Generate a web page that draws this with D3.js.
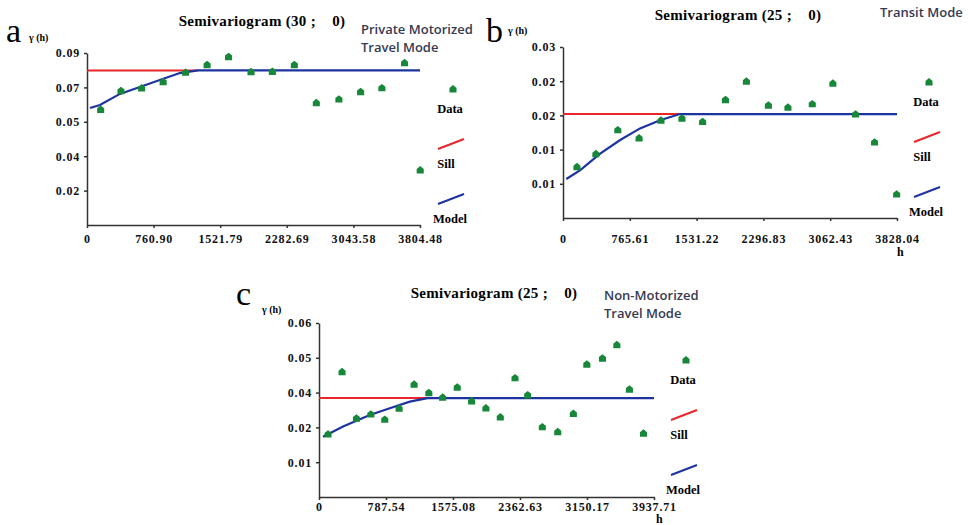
<!DOCTYPE html>
<html lang="en">
<head>
<meta charset="UTF-8">
<title>Semivariograms by travel mode</title>
<script src="https://d3js.org/d3.v7.min.js"></script>
<style>
    body { margin: 0; background: #fff; }
    svg { display: block; }
    .axis text { font-family: "Liberation Serif", serif; font-weight: bold; font-size: 12px; letter-spacing: 0.8px; fill: #111; }
    .axis path, .axis line { stroke: #333; stroke-width: 1.5; }
    .title { font-family: "Liberation Serif", serif; font-weight: bold; font-size: 15px; letter-spacing: 0.3px; white-space: pre; }
    .note { font-family: "Open Sans", sans-serif; font-size: 13px; font-weight: 600; fill: #363a52; }
    .legend { font-family: "Liberation Serif", serif; font-weight: bold; font-size: 12.5px; }
    .letter { font-family: "Liberation Serif", serif; font-size: 34px; }
    .ylab { font-family: "Liberation Serif", serif; font-weight: bold; font-size: 10px; }
</style>
</head>
<body>
<svg width="971" height="525"></svg>
<script>
// ---- data ----
// (a) private motorized
const aLag = [156, 388, 624, 870, 1126, 1372, 1617, 1874, 2118, 2369, 2620, 2878, 3126, 3369, 3628, 3807];
const aGamma = [0.0605, 0.0703, 0.0717, 0.0750, 0.0799, 0.0839, 0.0881, 0.0802, 0.0804, 0.0839, 0.0640, 0.0659, 0.0698, 0.0718, 0.0849, 0.0288];
const aModelLag = [34, 148, 376, 604, 832, 1060, 1266, 3804.48];
const aModelGamma = [0.0612, 0.0628, 0.0686, 0.0722, 0.0759, 0.0795, 0.0809, 0.0809];
const aSill = 0.0809, aSillEnd = 1266;
const aXTicks = [0, 760.90, 1521.79, 2282.69, 3043.58, 3804.48];
const aYTicks = [0.018, 0.036, 0.054, 0.072, 0.09];
const aYTickLabels = ["0.02", "0.04", "0.05", "0.07", "0.09"];

// (b) transit
const bLag = [160, 377, 628, 872, 1123, 1363, 1600, 1862, 2102, 2354, 2578, 2857, 3093, 3353, 3571, 3824];
const bGamma = [0.0075, 0.0094, 0.0129, 0.0117, 0.0143, 0.0146, 0.0141, 0.0173, 0.0200, 0.0165, 0.0162, 0.0167, 0.0197, 0.0152, 0.0111, 0.0035];
const bModelLag = [38, 198, 426, 655, 883, 1112, 1340, 3828.04];
const bModelGamma = [0.0057, 0.0070, 0.0094, 0.0114, 0.0131, 0.0143, 0.0152, 0.0152];
const bSill = 0.0152, bSillEnd = 1340;
const bXTicks = [0, 765.61, 1531.22, 2296.83, 3062.43, 3828.04];
const bYTicks = [0.005, 0.01, 0.015, 0.02, 0.025];
const bYTickLabels = ["0.01", "0.01", "0.02", "0.02", "0.03"];

// (c) non-motorized
const cLag = [106, 271, 440, 609, 773, 942, 1118, 1291, 1453, 1625, 1794, 1962, 2131, 2304, 2453, 2625, 2806, 2990, 3148, 3332, 3501, 3649, 3814];
const cGamma = [0.0217, 0.0432, 0.0272, 0.0286, 0.0268, 0.0306, 0.0389, 0.0360, 0.0344, 0.0379, 0.0331, 0.0307, 0.0276, 0.0411, 0.0352, 0.0242, 0.0225, 0.0288, 0.0458, 0.0479, 0.0525, 0.0372, 0.0220];
const cModelLag = [47, 283, 597, 832, 1068, 1276, 3937.71];
const cModelGamma = [0.0208, 0.0243, 0.0283, 0.0306, 0.0329, 0.0341, 0.0341];
const cSill = 0.0341, cSillEnd = 1276;
const cXTicks = [0, 787.54, 1575.08, 2362.63, 3150.17, 3937.71];
const cYTicks = [0.012, 0.024, 0.036, 0.048, 0.06];
const cYTickLabels = ["0.01", "0.02", "0.04", "0.05", "0.06"];

const legendLabels = ["Data", "Sill", "Model"];

const svg = d3.select("svg");
svg.append("rect").attr("width", 971).attr("height", 525).attr("fill", "#fff");

const GREEN = "#17873a", RED = "#e8262b", BLUE = "#1d33a0";

// small house-shaped marker like the original
const house = {
    draw(ctx, size) {
        const r = Math.sqrt(size) / 2;
        ctx.moveTo(-r, -r * 0.3);
        ctx.lineTo(0, -r * 1.1);
        ctx.lineTo(r, -r * 0.3);
        ctx.lineTo(r, r);
        ctx.lineTo(-r, r);
        ctx.closePath();
    }
};
const marker = d3.symbol().type(house).size(50);

function drawPanel(p) {
    const x = d3.scaleLinear().domain([0, p.xTicks[p.xTicks.length - 1]]).range([p.x0, p.x1]);
    const y = d3.scaleLinear().domain([0, p.yTicks[p.yTicks.length - 1]]).range([p.yb, p.yt]);
    const g = svg.append("g");

    g.append("g").attr("class", "axis")
        .attr("transform", `translate(0,${p.yb})`)
        .call(d3.axisBottom(x).tickValues(p.xTicks)
            .tickFormat(d => d === 0 ? "0" : d.toFixed(2))
            .tickSize(3).tickSizeOuter(0).tickPadding(p.xPad));

    g.append("g").attr("class", "axis")
        .attr("transform", `translate(${p.x0},0)`)
        .call(d3.axisLeft(y).tickValues(p.yTicks)
            .tickFormat((d, i) => p.yLabels[i])
            .tickSize(3).tickSizeOuter(0).tickPadding(4));

    // sill
    g.append("line")
        .attr("x1", x(0)).attr("x2", x(p.sillEnd))
        .attr("y1", y(p.sill)).attr("y2", y(p.sill))
        .attr("stroke", RED).attr("stroke-width", 2);

    // model
    const line = d3.line().x(d => x(d[0])).y(d => y(d[1]));
    g.append("path")
        .attr("d", line(d3.zip(p.modelLag, p.modelGamma)))
        .attr("fill", "none").attr("stroke", BLUE).attr("stroke-width", 2.2);

    // experimental points
    g.selectAll(".pt").data(d3.zip(p.lag, p.gamma)).join("path")
        .attr("class", "pt")
        .attr("transform", d => `translate(${x(d[0])},${y(d[1])})`)
        .attr("d", marker).attr("fill", GREEN);

    // titles and labels
    g.append("text").attr("class", "title")
        .attr("x", p.titleX).attr("y", p.titleY).attr("text-anchor", "middle")
        .text(p.title);
    p.note.forEach((t, i) => g.append("text").attr("class", "note")
        .attr("x", p.noteX).attr("y", p.noteY + i * 18).text(t));
    g.append("text").attr("class", "letter")
        .attr("x", p.letterX).attr("y", p.letterY).text(p.letter);
    g.append("text").attr("class", "ylab")
        .attr("x", p.ylabX).attr("y", p.ylabY).text("γ (h)");
    if (p.hX) g.append("text").attr("class", "ylab").style("font-size", "12px")
        .attr("x", p.hX).attr("y", p.hY).text("h");

    // legend
    const L = p.legend;
    g.append("path").attr("transform", `translate(${L[0] + 3},${L[1]})`)
        .attr("d", marker).attr("fill", GREEN);
    const colors = [null, RED, BLUE];
    legendLabels.forEach((lab, i) => {
        const cy = L[1] + i * 55;
        if (colors[i]) {
            g.append("line")
                .attr("x1", L[0] - 12).attr("y1", cy + 5)
                .attr("x2", L[0] + 14).attr("y2", cy - 5)
                .attr("stroke", colors[i]).attr("stroke-width", 2);
        }
        g.append("text").attr("class", "legend")
            .attr("x", L[0] + (i === 1 ? -4 : 0)).attr("y", cy + 24)
            .attr("text-anchor", "middle").text(lab);
    });
}

drawPanel({
    lag: aLag, gamma: aGamma, modelLag: aModelLag, modelGamma: aModelGamma,
    sill: aSill, sillEnd: aSillEnd, xTicks: aXTicks, yTicks: aYTicks, yLabels: aYTickLabels,
    x0: 87, x1: 420, yb: 225, yt: 53, xPad: 6,
    title: "Semivariogram (30 ;    0)", titleX: 262, titleY: 26,
    note: ["Private Motorized", "Travel Mode"], noteX: 361, noteY: 34,
    letter: "a", letterX: 6, letterY: 42, ylabX: 29, ylabY: 41,
    legend: [450, 89]
});

drawPanel({
    lag: bLag, gamma: bGamma, modelLag: bModelLag, modelGamma: bModelGamma,
    sill: bSill, sillEnd: bSillEnd, xTicks: bXTicks, yTicks: bYTicks, yLabels: bYTickLabels,
    x0: 563, x1: 897, yb: 218, yt: 47, xPad: 13,
    title: "Semivariogram (25 ;    0)", titleX: 738, titleY: 20,
    note: ["Transit Mode"], noteX: 880, noteY: 17,
    letter: "b", letterX: 486, letterY: 42, ylabX: 508, ylabY: 34,
    hX: 897, hY: 256,
    legend: [926, 82]
});

drawPanel({
    lag: cLag, gamma: cGamma, modelLag: cModelLag, modelGamma: cModelGamma,
    sill: cSill, sillEnd: cSillEnd, xTicks: cXTicks, yTicks: cYTicks, yLabels: cYTickLabels,
    x0: 319, x1: 654, yb: 497, yt: 323, xPad: 2,
    title: "Semivariogram (25 ;    0)", titleX: 494, titleY: 298,
    note: ["Non-Motorized", "Travel Mode"], noteX: 604, noteY: 300,
    letter: "c", letterX: 236, letterY: 305, ylabX: 262, ylabY: 313,
    hX: 656, hY: 523,
    legend: [683, 360]
});
</script>
</body>
</html>
